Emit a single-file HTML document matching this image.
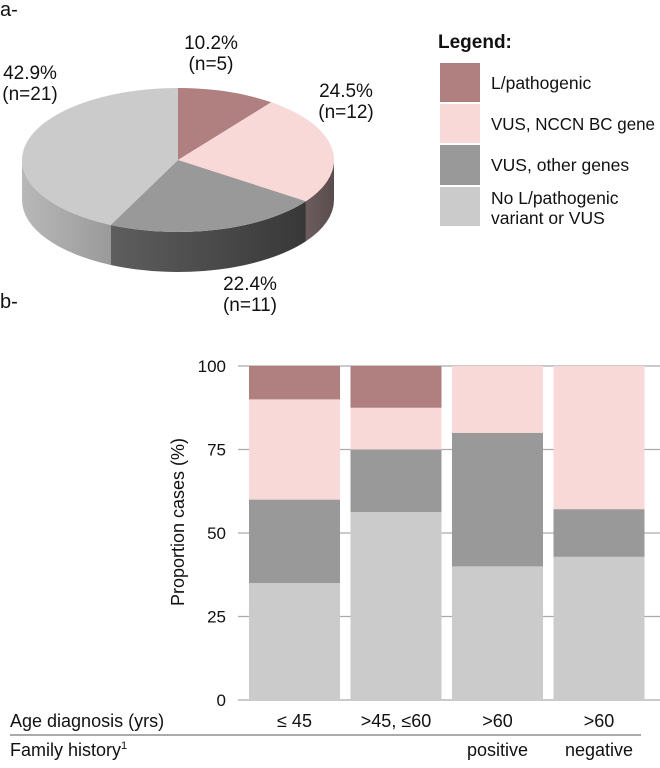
<!DOCTYPE html>
<html><head><meta charset="utf-8"><style>
body{margin:0;background:#fff;}
svg text{font-family:"Liberation Sans","DejaVu Sans",sans-serif;fill:#111;}
</style></head><body>
<svg id="c" width="660" height="763" viewBox="0 0 660 763" xmlns="http://www.w3.org/2000/svg">
<defs>
<linearGradient id="gLight" x1="0" x2="1" y1="0" y2="0"><stop offset="0" stop-color="#b8b8b8"/><stop offset="1" stop-color="#9a9a9a"/></linearGradient>
<linearGradient id="gDark" x1="0" x2="1" y1="0" y2="0"><stop offset="0" stop-color="#5e5e5e"/><stop offset="1" stop-color="#383838"/></linearGradient>
<linearGradient id="gPink" x1="0" x2="1" y1="0" y2="0"><stop offset="0" stop-color="#6c5c5e"/><stop offset="1" stop-color="#5a4c4e"/></linearGradient>
<linearGradient id="gRed" x1="0" x2="1" y1="0" y2="0"><stop offset="0" stop-color="#6a4a4a"/><stop offset="1" stop-color="#5a3e3e"/></linearGradient>
</defs>
<text x="0" y="16" font-size="20">a-</text>
<text x="0" y="308" font-size="20">b-</text>
<g id="pie"></g>
<g id="pielabels">
<text x="211" y="49" font-size="19" text-anchor="middle"><tspan x="211">10.2%</tspan><tspan x="211" dy="21">(n=5)</tspan></text>
<text x="346" y="97" font-size="19" text-anchor="middle"><tspan x="346">24.5%</tspan><tspan x="346" dy="21">(n=12)</tspan></text>
<text x="250" y="290" font-size="19" text-anchor="middle"><tspan x="250">22.4%</tspan><tspan x="250" dy="21">(n=11)</tspan></text>
<text x="30" y="79" font-size="19" text-anchor="middle"><tspan x="30">42.9%</tspan><tspan x="30" dy="21">(n=21)</tspan></text>
</g>
<g>
<text x="438" y="48" font-size="19" font-weight="bold">Legend:</text>
<rect x="440" y="63" width="40" height="39" fill="#b07f7f"/>
<text x="491" y="89" font-size="17.5">L/pathogenic</text>
<rect x="440" y="104" width="40" height="39" fill="#f9d8d8"/>
<text x="491" y="130" font-size="17.5" textLength="164" lengthAdjust="spacingAndGlyphs">VUS, NCCN BC gene</text>
<rect x="440" y="145" width="40" height="40" fill="#999999"/>
<text x="491" y="171" font-size="17.5">VUS, other genes</text>
<rect x="440" y="187" width="40" height="39" fill="#cbcbcb"/>
<text x="491" y="204" font-size="17.5"><tspan x="491">No L/pathogenic</tspan><tspan x="491" dy="20">variant or VUS</tspan></text>
</g>
<g id="bars"></g>
<text transform="translate(184,522) rotate(-90)" font-size="18" text-anchor="middle">Proportion cases (%)</text>
<text x="10" y="727" font-size="18">Age diagnosis (yrs)</text>
<line x1="10" y1="735" x2="641" y2="735" stroke="#555" stroke-width="1"/>
<text x="10" y="756" font-size="18">Family history<tspan font-size="11" dy="-7">1</tspan></text>
</svg>
<script>
const pieCategories = ["L/pathogenic","VUS, NCCN BC gene","VUS, other genes","No L/pathogenic variant or VUS"];
const pieValues = [10.2, 24.5, 22.4, 42.9];
const barCategories = ["≤ 45", ">45, ≤60", ">60", ">60"];
const familyHistory = ["", "", "positive", "negative"];
const seriesNone = [35, 56.25, 40, 42.86];
const seriesVusOther = [25, 18.75, 40, 14.28];
const seriesVusNccn = [30, 12.5, 20, 42.86];
const seriesPathogenic = [10, 12.5, 0, 0];
const yTicks = [0, 25, 50, 75, 100];

const NS = "http://www.w3.org/2000/svg";
const colors = ["#b07f7f","#f9d8d8","#999999","#cbcbcb"];
const sideFills = ["url(#gRed)","url(#gPink)","url(#gDark)","url(#gLight)"];
const keys = ["pathogenic","vus-nccn","vus-other","none"];
function mk(tag, attrs, parent){const e=document.createElementNS(NS,tag);for(const k in attrs)e.setAttribute(k,attrs[k]);parent.appendChild(e);return e;}

const cx=178, cy=160, rx=156, ry=72, depth=40;
const pie=document.getElementById('pie');
const total=pieValues.reduce((a,b)=>a+b,0);
function pt(deg,dy){const r=deg*Math.PI/180;return [cx+rx*Math.sin(r), cy-ry*Math.cos(r)+(dy||0)];}
let start=0; const ranges=[];
pieValues.forEach(v=>{const end=start+v/total*360;ranges.push([start,end]);start=end;});
ranges.forEach((r,i)=>{
  const a=Math.max(r[0],90), b=Math.min(r[1],270);
  if(b<=a) return;
  const p1=pt(a),p2=pt(b),p3=pt(b,depth),p4=pt(a,depth);
  const d=`M${p1[0]},${p1[1]} A${rx},${ry} 0 0 1 ${p2[0]},${p2[1]} L${p3[0]},${p3[1]} A${rx},${ry} 0 0 0 ${p4[0]},${p4[1]} Z`;
  const e=mk('path',{d:d,fill:sideFills[i]},pie);
  
  
});
ranges.forEach((r,i)=>{
  const p1=pt(r[0]),p2=pt(r[1]);
  const large=(r[1]-r[0])>180?1:0;
  const d=`M${cx},${cy} L${p1[0]},${p1[1]} A${rx},${ry} 0 ${large} 1 ${p2[0]},${p2[1]} Z`;
  const e=mk('path',{d:d,fill:colors[i]},pie);
  
  
});

const bars=document.getElementById('bars');
const y0=700, y100=366, gx0=238, gx1=660;
function ys(v){return y0-(v/100)*(y0-y100);}
const barW=91, step=101.5, bx0=249;
function xs(i){return bx0+i*step;}
yTicks.forEach(t=>{
  const y=ys(t);
  const l=mk('line',{x1:gx0,x2:gx1,y1:y,y2:y,stroke:'#aaa','stroke-width':1.3},bars);
  
  
  const tx=mk('text',{x:226,y:y+6,'font-size':17,'text-anchor':'end'},bars);
  tx.textContent=t;
  
  
});
const stack=[seriesNone,seriesVusOther,seriesVusNccn,seriesPathogenic];
const stackKeys=["none","vus-other","vus-nccn","pathogenic"];
const stackColors=["#cbcbcb","#999999","#f9d8d8","#b07f7f"];
barCategories.forEach((c,i)=>{
  let base=0;
  stack.forEach((s,j)=>{
    const v=s[i]; if(v<=0) return;
    const r=mk('rect',{x:xs(i),width:barW,y:ys(base+v),height:ys(base)-ys(base+v),fill:stackColors[j]},bars);
    
    
    base+=v;
  });
  const t=mk('text',{x:xs(i)+barW/2,y:727,'font-size':18,'text-anchor':'middle'},bars);
  t.textContent=c;
  
  
  if(familyHistory[i]){
    const f=mk('text',{x:xs(i)+barW/2,y:756,'font-size':18,'text-anchor':'middle'},bars);
    f.textContent=familyHistory[i];
    
    
  }
});
</script>
</body></html>
